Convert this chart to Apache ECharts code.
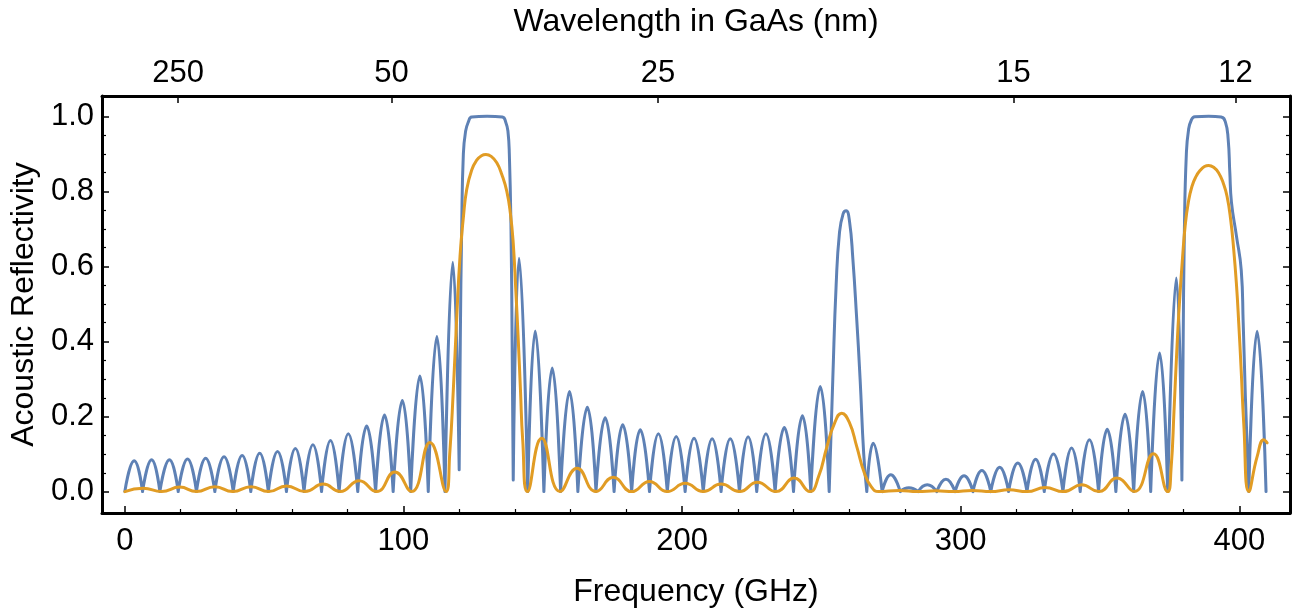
<!DOCTYPE html>
<html>
<head>
<meta charset="utf-8">
<script src="https://cdn.jsdelivr.net/npm/echarts@6/dist/echarts.min.js"></script>
<style>
html,body{margin:0;padding:0;background:#fff;}
#chart{width:1304px;height:614px;}
</style>
</head>
<body>
<div id="chart"></div>
<script>
// ---- Data ----
// Blue curve (superlattice reflectivity). null in blueR = pen lift (separate stroke)
const blueF = [
  0,3.35,6.35, 6.35,null, 6.35,9.6,12.57, 12.57,null, 12.57,16.0,19.15, 19.15,null,
  19.15,22.5,25.7, 25.7,null, 25.7,29.0,32.3, 32.3,null, 32.3,35.6,38.9, 38.9,null,
  38.9,42.1,45.2, 45.2,null, 45.2,48.4,51.5, 51.5,null, 51.5,54.8,58.0, 58.0,null,
  58.0,61.2,64.3, 64.3,null, 64.3,67.5,70.6, 70.6,null, 70.6,73.8,76.9, 76.9,null,
  76.9,80.2,83.6, 83.6,null, 83.6,86.8,90.0, 90.0,null, 90.0,93.2,96.3, 96.3,null,
  96.3,99.6,102.6, 102.6,null, 102.6,105.9,108.9, 108.9,null, 108.9,112.0,114.9, 114.9,null,
  114.9,117.7,120.0, 120.0,null,
  120.0,120.4,120.9,121.5,122.3,123.3,124.5,130.0,135.5,136.8,137.5,138.0,138.6,139.0,139.4, 139.4,null,
  139.4,141.5,144.6, 144.6,null, 144.6,147.3,150.4, 150.4,null, 150.4,153.4,156.4, 156.4,null,
  156.4,159.6,162.6, 162.6,null, 162.6,166.0,169.1, 169.1,null, 169.1,172.4,175.6, 175.6,null,
  175.6,178.7,181.9, 181.9,null, 181.9,185.0,188.3, 188.3,null, 188.3,191.5,194.7, 194.7,null,
  194.7,197.9,201.1, 201.1,null, 201.1,204.3,207.6, 207.6,null, 207.6,210.8,214.0, 214.0,null,
  214.0,217.3,220.6, 220.6,null, 220.6,223.7,226.8, 226.8,null, 226.8,230.1,233.4, 233.4,null,
  233.4,236.7,240.0, 240.0,null, 240.0,243.2,246.2, 246.2,null, 246.2,249.6,252.8, 252.8,null,
  252.8,254.1,255.3,256.5,257.8,258.9,260.1,261.3,262.6,263.9,265.2,266.3, 266.3,null,
  266.3,268.6,271.8, 271.8,null, 271.8,274.9,278.3, 278.3,null, 278.3,281.4,284.7, 284.7,null,
  284.7,288.0,291.4, 291.4,null, 291.4,294.7,298.0, 298.0,null, 298.0,301.2,304.4, 304.4,null,
  304.4,307.6,310.8, 310.8,null, 310.8,314.0,317.2, 317.2,null, 317.2,320.5,323.8, 323.8,null,
  323.8,326.9,330.0, 330.0,null, 330.0,333.3,336.7, 336.7,null, 336.7,339.8,342.9, 342.9,null,
  342.9,346.2,349.5, 349.5,null, 349.5,352.6,355.7, 355.7,null, 355.7,359.0,362.1, 362.1,null,
  362.1,365.3,368.2, 368.2,null, 368.2,371.4,374.3, 374.3,null, 374.3,377.4,379.4, 379.4,null,
  379.4,379.8,380.3,381.0,381.8,382.8,384.0,389.0,393.5,395.0,396.0,396.6,397.2,399.0,400.7,401.4,402.2,403.4, 403.4,null,
  403.4,406.4,409.6
];
const blueR = [
  0,0.082,0, 0,null, 0,0.085,0, 0,null, 0,0.085,0, 0,null,
  0,0.087,0, 0,null, 0,0.089,0, 0,null, 0,0.093,0, 0,null,
  0,0.096,0, 0,null, 0,0.102,0, 0,null, 0,0.107,0, 0,null,
  0,0.115,0, 0,null, 0,0.125,0, 0,null, 0,0.136,0, 0,null,
  0,0.154,0, 0,null, 0,0.175,0, 0,null, 0,0.204,0, 0,null,
  0,0.243,0, 0,null, 0,0.308,0, 0,null, 0,0.413,0, 0,null,
  0,0.611,0.058, 0.058,null,
  0.058,0.4,0.7,0.9,0.96,0.985,0.998,1.0,0.998,0.982,0.96,0.9,0.7,0.4,0.031, 0.031,null,
  0.031,0.622,0, 0,null, 0,0.428,0, 0,null, 0,0.329,0, 0,null,
  0,0.267,0, 0,null, 0,0.225,0, 0,null, 0,0.197,0, 0,null,
  0,0.178,0, 0,null, 0,0.165,0, 0,null, 0,0.154,0, 0,null,
  0,0.147,0, 0,null, 0,0.142,0, 0,null, 0,0.141,0, 0,null,
  0,0.141,0, 0,null, 0,0.146,0, 0,null, 0,0.154,0, 0,null,
  0,0.171,0, 0,null, 0,0.202,0, 0,null, 0,0.28,0, 0,null,
  0,0.3,0.55,0.69,0.74,0.748,0.72,0.62,0.47,0.3,0.1,0, 0,null,
  0,0.129,0, 0,null, 0,0.045,0, 0,null, 0,0.01,0, 0,null,
  0,0.018,0, 0,null, 0,0.033,0, 0,null, 0,0.042,0, 0,null,
  0,0.056,0, 0,null, 0,0.065,0, 0,null, 0,0.076,0, 0,null,
  0,0.086,0, 0,null, 0,0.10,0, 0,null, 0,0.116,0, 0,null,
  0,0.138,0, 0,null, 0,0.166,0, 0,null, 0,0.206,0, 0,null,
  0,0.267,0, 0,null, 0,0.369,0, 0,null, 0,0.569,0.031, 0.031,null,
  0.031,0.35,0.7,0.9,0.965,0.99,0.999,1.0,0.998,0.985,0.94,0.85,0.77,0.68,0.59,0.45,0.25,0, 0,null,
  0,0.427,0
];
// Orange curve
const orangeF = [
  0,6.6,13.2,19.7,25.7,32.3,38.7,45.3,51.6,58.0,64.6,71.2,77.3,84.1,90.4,96.9,102.9,109.5,115.3,
  116.6,117.9,119.1,120.3,121.5,122.7,124.5,126.3,128.0,129.6,131.5,133.5,135.3,137.1,138.4,139.4,140.3,141.2,142.0,142.8,144.5,
  149.6,156.2,162.3,169.1,175.3,181.9,188.3,194.7,201.1,207.6,214.0,220.6,227.0,233.7,240.3,245.9,
  249.0,252.0,254.6,257.3,260.0,262.7,265.4,268.0,270.5,
  278.0,284.5,291.0,297.5,304.2,310.8,317.3,323.8,330.3,336.9,343.4,349.6,356.1,362.3,369.2,374.3,
  375.5,376.6,377.6,378.5,379.6,380.6,381.7,383.0,384.5,386.0,387.5,389.0,390.8,392.6,394.2,395.6,396.9,398.0,399.0,399.8,400.7,401.6,403.4,
  406.4,408.8,410.0
];
const orangeR = [
  0,0.009,0,0.012,0,0.013,0,0.013,0,0.015,0,0.02,0,0.029,0,0.052,0,0.131,0,
  0.1,0.271,0.46,0.627,0.73,0.805,0.857,0.883,0.895,0.898,0.893,0.876,0.845,0.8,0.74,0.662,0.54,0.405,0.27,0.138,0,
  0.142,0,0.062,0,0.038,0,0.027,0,0.022,0,0.02,0,0.025,0,0.036,0,
  0.04,0.12,0.18,0.209,0.185,0.12,0.05,0.012,0,
  0.003,0,0.002,0,0.003,0,0.005,0,0.011,0,0.018,0,0.036,0,0.101,0,
  0.06,0.22,0.38,0.5,0.62,0.71,0.77,0.813,0.84,0.856,0.866,0.869,0.864,0.849,0.823,0.787,0.725,0.645,0.55,0.449,0.32,0.182,0,
  0.093,0.138,0.13
];
// Axis ticks
const freqMajor = [0,100,200,300,400];
const freqMinor = [20,40,60,80,120,140,160,180,220,240,260,280,320,340,360,380];
const reflMajor = [0,0.2,0.4,0.6,0.8,1.0];
const reflMinor = [0.05,0.1,0.15,0.25,0.3,0.35,0.45,0.5,0.55,0.65,0.7,0.75,0.85,0.9,0.95];
const wavelengthTicks = [250,50,25,15,12];   // nm
const soundSpeed = 4784;                      // m/s in GaAs -> f(GHz) = v / lambda(nm)

const X_MIN = -8.2, X_MAX = 418.2, Y_MIN = -0.057, Y_MAX = 1.054;

// ---- Build chart ----
const blueData = blueF.map((f,i)=>[f, blueR[i]]);
const orangeData = orangeF.map((f,i)=>[f, orangeR[i]]);
const wlFreq = wavelengthTicks.map(l => soundSpeed / l);

const FONT = 'Liberation Sans';
const TICK_FS = 31, TITLE_FS = 32;
const black = '#000';

function frameAxis(extra){
  return Object.assign({
    type:'value', min:X_MIN, max:X_MAX, splitLine:{show:false},
    axisLine:{show:true, onZero:false, lineStyle:{color:black,width:3}},
  }, extra);
}

const chart = echarts.init(document.getElementById('chart'), null, {renderer:'canvas'});
chart.setOption({
  animation:false,
  backgroundColor:'#fff',
  grid:{left:102, right:14, top:96, bottom:101, containLabel:false},
  xAxis:[
    frameAxis({position:'bottom',
      axisTick:{show:true, inside:true, length:7, customValues:freqMajor, lineStyle:{color:black,width:1.5}},
      axisLabel:{show:true, customValues:freqMajor, margin:13, color:black, fontFamily:FONT, fontSize:TICK_FS},
      name:'Frequency (GHz)', nameLocation:'middle', nameGap:63,
      nameTextStyle:{color:black, fontFamily:FONT, fontSize:TITLE_FS}
    }),
    frameAxis({position:'bottom',
      axisLine:{show:false, onZero:false},
      axisTick:{show:true, inside:true, length:4, customValues:freqMinor, lineStyle:{color:black,width:1.2}},
      axisLabel:{show:false}
    }),
    frameAxis({position:'top',
      axisTick:{show:true, inside:true, length:7, customValues:wlFreq, lineStyle:{color:black,width:1.5}},
      axisLabel:{show:true, customValues:wlFreq, margin:7, color:black, fontFamily:FONT, fontSize:TICK_FS,
        formatter:(v)=>String(Math.round(soundSpeed / v))},
      name:'Wavelength in GaAs (nm)', nameLocation:'middle', nameGap:58,
      nameTextStyle:{color:black, fontFamily:FONT, fontSize:TITLE_FS}
    })
  ],
  yAxis:[
    {type:'value', min:Y_MIN, max:Y_MAX, position:'left', splitLine:{show:false},
      axisLine:{show:true, onZero:false, lineStyle:{color:black,width:3}},
      axisTick:{show:true, inside:true, length:7, customValues:reflMajor, lineStyle:{color:black,width:1.5}},
      axisLabel:{show:true, customValues:reflMajor, margin:8, color:black, fontFamily:FONT, fontSize:TICK_FS,
        formatter:(v)=>v.toFixed(1)},
      name:'Acoustic Reflectivity', nameLocation:'middle', nameGap:62, nameRotate:90,
      nameTextStyle:{color:black, fontFamily:FONT, fontSize:TITLE_FS}
    },
    {type:'value', min:Y_MIN, max:Y_MAX, position:'left', splitLine:{show:false},
      axisLine:{show:false, onZero:false},
      axisTick:{show:true, inside:true, length:4, customValues:reflMinor, lineStyle:{color:black,width:1.2}},
      axisLabel:{show:false}
    },
    {type:'value', min:Y_MIN, max:Y_MAX, position:'right', splitLine:{show:false},
      axisLine:{show:true, onZero:false, lineStyle:{color:black,width:3}},
      axisTick:{show:true, inside:true, length:7, customValues:reflMajor, lineStyle:{color:black,width:1.5}},
      axisLabel:{show:false}
    },
    {type:'value', min:Y_MIN, max:Y_MAX, position:'right', splitLine:{show:false},
      axisLine:{show:false, onZero:false},
      axisTick:{show:true, inside:true, length:4, customValues:reflMinor, lineStyle:{color:black,width:1.2}},
      axisLabel:{show:false}
    }
  ],
  series:[
    {type:'line', name:'blue', xAxisIndex:0, yAxisIndex:0, data:blueData,
      showSymbol:false, smooth:0.5, connectNulls:false, z:2,
      lineStyle:{color:'#5E81B5', width:3, cap:'round', join:'round'}},
    {type:'line', name:'orange', xAxisIndex:0, yAxisIndex:0, data:orangeData,
      showSymbol:false, smooth:0.5, z:3,
      lineStyle:{color:'#E19C24', width:3, cap:'round', join:'round'}}
  ]
});
</script>
</body>
</html>
